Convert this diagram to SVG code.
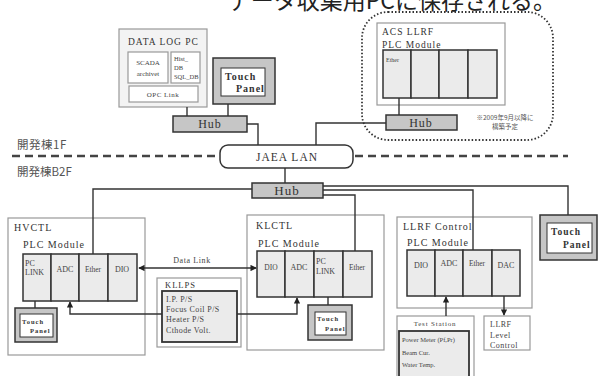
<svg xmlns="http://www.w3.org/2000/svg" width="598" height="376" viewBox="0 0 598 376">
<defs>
<marker id="ah" viewBox="0 0 8 8" refX="7" refY="4" markerWidth="4.5" markerHeight="4.5" orient="auto-start-reverse"><path d="M0,0 L8,4 L0,8 z" fill="#222"/></marker>
<style>
.t{font-family:"Liberation Serif","Noto Sans CJK JP",serif;fill:#333;letter-spacing:1px}
.s{font-family:"Liberation Serif",serif;fill:#444}
.j{font-family:"Noto Sans CJK JP",sans-serif;fill:#555}
.box{fill:#fff;stroke:#999;stroke-width:1.2}
.lbox{fill:#f3f3f3;stroke:#999;stroke-width:1.2}
.cell{fill:#ebebeb;stroke:#333;stroke-width:1.5}
.hub{fill:#c6c6c6;stroke:#333;stroke-width:1.5}
.tpo{fill:#c6c6c6;stroke:#333;stroke-width:1.5}
.tpi{fill:#fff;stroke:#333;stroke-width:1}
.ln{fill:none;stroke:#333;stroke-width:1.4}
</style>
</defs>
<rect width="598" height="376" fill="#fff"/>
<text x="556" y="9" text-anchor="end" font-size="23" font-family="Noto Sans CJK JP,sans-serif" fill="#222">データ収集用PCに保存される。</text>

<g id="floor">
<line x1="12" y1="156" x2="219" y2="156" stroke="#444" stroke-width="2.5" stroke-dasharray="8,5"/>
<line x1="355" y1="156" x2="568" y2="156" stroke="#444" stroke-width="2.5" stroke-dasharray="8,5"/>
<text x="17" y="149" class="j" font-size="11.5" letter-spacing="0.5">開発棟1F</text>
<text x="17" y="176" class="j" font-size="11.5">開発棟B2F</text>
</g>

<g id="datalog">
<rect x="119" y="29" width="88" height="78" class="lbox"/>
<text x="128" y="45" class="t" font-size="9.5">DATA LOG PC</text>
<rect x="128" y="52" width="40" height="31" class="box"/>
<text x="148" y="65" class="s" font-size="7" text-anchor="middle">SCADA</text>
<text x="148" y="76" class="s" font-size="7" text-anchor="middle">archivet</text>
<rect x="171" y="52" width="29" height="31" class="box"/>
<text x="174" y="61" class="s" font-size="6.5">Hist_</text>
<text x="174" y="70" class="s" font-size="6.5">DB</text>
<text x="174" y="79" class="s" font-size="6.5">SQL_DB</text>
<rect x="129" y="86" width="69" height="16" class="box"/>
<text x="163" y="97" class="s" font-size="7" letter-spacing="0.5" text-anchor="middle">OPC Link</text>
</g>

<g id="touch-top">
<rect x="213" y="58" width="62" height="46" class="tpo"/>
<rect x="221" y="68" width="44" height="28" class="tpi"/>
<text x="225" y="80" class="t" font-size="10" letter-spacing="0.3" font-weight="bold" fill="#222">Touch</text>
<text x="236" y="92" class="t" font-size="10" letter-spacing="0.3" font-weight="bold" fill="#222">Panel</text>
</g>

<g id="hub-top">
<rect x="173" y="116" width="74" height="16" class="hub"/>
<text x="210" y="128" class="t" font-size="12" text-anchor="middle">Hub</text>
</g>

<g id="acs">
<rect x="362" y="12" width="191" height="128" rx="26" fill="none" stroke="#333" stroke-width="1.8" stroke-dasharray="1.5,2"/>
<rect x="377" y="23" width="128" height="82" class="box"/>
<text x="382" y="35" class="t" font-size="9.5">ACS LLRF</text>
<text x="382" y="48" class="t" font-size="9.5">PLC Module</text>
<rect x="383" y="50" width="28" height="48" class="cell"/>
<rect x="411" y="50" width="28" height="48" class="cell"/>
<rect x="439" y="50" width="29" height="48" class="cell"/>
<rect x="468" y="50" width="29" height="48" class="cell"/>
<text x="386" y="62" class="s" font-size="6">Ether</text>
<rect x="386" y="115" width="71" height="15" class="hub"/>
<text x="421" y="127" class="t" font-size="12" text-anchor="middle">Hub</text>
<text x="505" y="120" class="j" font-size="6.5" text-anchor="middle">※2009年9月以降に</text>
<text x="505" y="129" class="j" font-size="6.5" text-anchor="middle">構築予定</text>
</g>

<g id="jaea">
<rect x="220" y="145" width="133" height="23" rx="8" fill="#fff" stroke="#333" stroke-width="1.5"/>
<text x="287" y="161" class="t" font-size="11.5" letter-spacing="1.5" text-anchor="middle">JAEA LAN</text>
</g>

<g id="hub-mid">
<rect x="252" y="183" width="71" height="15" class="hub"/>
<text x="287" y="195" class="t" font-size="13" text-anchor="middle">Hub</text>
</g>

<g id="hvctl">
<rect x="8" y="218" width="137" height="137" class="box"/>
<text x="14" y="231" class="t" font-size="10">HVCTL</text>
<text x="23" y="248" class="t" font-size="10">PLC Module</text>
<rect x="23" y="254" width="28" height="47" class="cell"/>
<rect x="51" y="254" width="28" height="47" class="cell"/>
<rect x="79" y="254" width="29" height="47" class="cell"/>
<rect x="108" y="254" width="29" height="47" class="cell"/>
<text x="25" y="266" class="s" font-size="8">PC</text>
<text x="25" y="275" class="s" font-size="8">LINK</text>
<text x="65" y="272" class="s" font-size="8" text-anchor="middle">ADC</text>
<text x="93" y="272" class="s" font-size="7.5" text-anchor="middle">Ether</text>
<text x="122" y="272" class="s" font-size="8" text-anchor="middle">DIO</text>
<rect x="15" y="308" width="42" height="34" class="tpo"/>
<rect x="20" y="314" width="33" height="23" class="tpi"/>
<text x="22" y="324" class="t" font-size="6.5" letter-spacing="0" font-weight="bold" fill="#222">Touch</text>
<text x="30" y="333" class="t" font-size="6.5" letter-spacing="0" font-weight="bold" fill="#222">Panel</text>
</g>

<g id="kllps">
<rect x="157" y="278" width="84" height="69" class="box"/>
<text x="165" y="288" class="t" font-size="8.5">KLLPS</text>
<rect x="162" y="291" width="75" height="51" fill="#ebebeb" stroke="#333" stroke-width="1.8"/>
<text x="166" y="302" class="s" font-size="8" letter-spacing="0.4">I.P. P/S</text>
<text x="166" y="312" class="s" font-size="8" letter-spacing="0.4">Focus Coil P/S</text>
<text x="166" y="322" class="s" font-size="8" letter-spacing="0.4">Heater P/S</text>
<text x="166" y="333" class="s" font-size="8" letter-spacing="0.4">Cthode Volt.</text>
</g>

<g id="klctl">
<rect x="247" y="215" width="137" height="135" class="box"/>
<text x="256" y="229" class="t" font-size="10">KLCTL</text>
<text x="258" y="247" class="t" font-size="10">PLC Module</text>
<rect x="257" y="251" width="28" height="46" class="cell"/>
<rect x="285" y="251" width="29" height="46" class="cell"/>
<rect x="314" y="251" width="29" height="46" class="cell"/>
<rect x="343" y="251" width="29" height="46" class="cell"/>
<text x="271" y="270" class="s" font-size="7.5" text-anchor="middle">DIO</text>
<text x="299" y="270" class="s" font-size="8" text-anchor="middle">ADC</text>
<text x="316" y="264" class="s" font-size="8">PC</text>
<text x="316" y="274" class="s" font-size="8">LINK</text>
<text x="357" y="270" class="s" font-size="7.5" text-anchor="middle">Ether</text>
<rect x="308" y="305" width="44" height="35" class="tpo"/>
<rect x="315" y="312" width="31" height="23" class="tpi"/>
<text x="317" y="321" class="t" font-size="6.5" letter-spacing="0" font-weight="bold" fill="#222">Touch</text>
<text x="325" y="331" class="t" font-size="6.5" letter-spacing="0" font-weight="bold" fill="#222">Panel</text>
</g>

<g id="llrf">
<rect x="397" y="217" width="135" height="91" class="box"/>
<text x="403" y="230" class="t" font-size="10">LLRF Control</text>
<text x="407" y="246" class="t" font-size="10">PLC Module</text>
<rect x="407" y="250" width="28" height="46" class="cell"/>
<rect x="435" y="250" width="28" height="46" class="cell"/>
<rect x="463" y="250" width="29" height="46" class="cell"/>
<rect x="492" y="250" width="28" height="46" class="cell"/>
<text x="421" y="268" class="s" font-size="8" text-anchor="middle">DIO</text>
<text x="449" y="266" class="s" font-size="8" text-anchor="middle">ADC</text>
<text x="477" y="266" class="s" font-size="7.5" text-anchor="middle">Ether</text>
<text x="506" y="268" class="s" font-size="8" text-anchor="middle">DAC</text>
</g>

<g id="test-station">
<rect x="397" y="316" width="77" height="62" class="box"/>
<text x="435" y="326" class="s" font-size="7" letter-spacing="0.8" text-anchor="middle">Test Station</text>
<rect x="399" y="331" width="70" height="46" fill="#ebebeb" stroke="#333" stroke-width="1.8"/>
<text x="402" y="342" class="s" font-size="6.5">Power Meter (Pf,Pr)</text>
<text x="402" y="355" class="s" font-size="6.5">Beam Cur.</text>
<text x="402" y="367" class="s" font-size="6.5">Water Temp.</text>
</g>

<g id="llrf-level">
<rect x="484" y="316" width="46" height="34" class="box"/>
<text x="490" y="327" class="s" font-size="8" letter-spacing="0.5">LLRF</text>
<text x="490" y="338" class="s" font-size="8" letter-spacing="0.5">Level</text>
<text x="490" y="348" class="s" font-size="8" letter-spacing="0.5">Control</text>
</g>

<g id="touch-right">
<rect x="540" y="215" width="57" height="45" class="tpo"/>
<rect x="547" y="223" width="45" height="30" class="tpi"/>
<text x="551" y="235" class="t" font-size="9.5" letter-spacing="0.3" font-weight="bold" fill="#222">Touch</text>
<text x="563" y="248" class="t" font-size="9.5" letter-spacing="0.3" font-weight="bold" fill="#222">Panel</text>
</g>

<g id="connectors">
<line x1="187" y1="107" x2="187" y2="116" class="ln"/>
<line x1="228" y1="104" x2="228" y2="116" class="ln"/>
<polyline points="247,124 258,124 258,145" class="ln"/>
<polyline points="386,123 316,123 316,145" class="ln"/>
<line x1="399" y1="98" x2="399" y2="115" class="ln"/>
<line x1="285" y1="168" x2="285" y2="183" class="ln"/>
<polyline points="252,189 93,189 93,254" class="ln"/>
<polyline points="323,186 568,186 568,215" class="ln"/>
<polyline points="323,190 473,190 473,250" class="ln"/>
<polyline points="323,195 355,195 355,251" class="ln"/>
<line x1="35" y1="301" x2="35" y2="308" class="ln"/>
<line x1="328" y1="297" x2="328" y2="305" class="ln"/>
<line x1="139" y1="268" x2="256" y2="268" class="ln" marker-start="url(#ah)" marker-end="url(#ah)"/>
<polyline points="162,314 70,314 70,302" class="ln" marker-end="url(#ah)"/>
<polyline points="237,314 297,314 297,298" class="ln" marker-end="url(#ah)"/>
<line x1="446" y1="316" x2="446" y2="297" class="ln" marker-end="url(#ah)"/>
<line x1="504" y1="296" x2="504" y2="315" class="ln" marker-end="url(#ah)"/>
<text x="192" y="263" class="s" font-size="8" letter-spacing="0.6" text-anchor="middle">Data Link</text>
</g>
</svg>
